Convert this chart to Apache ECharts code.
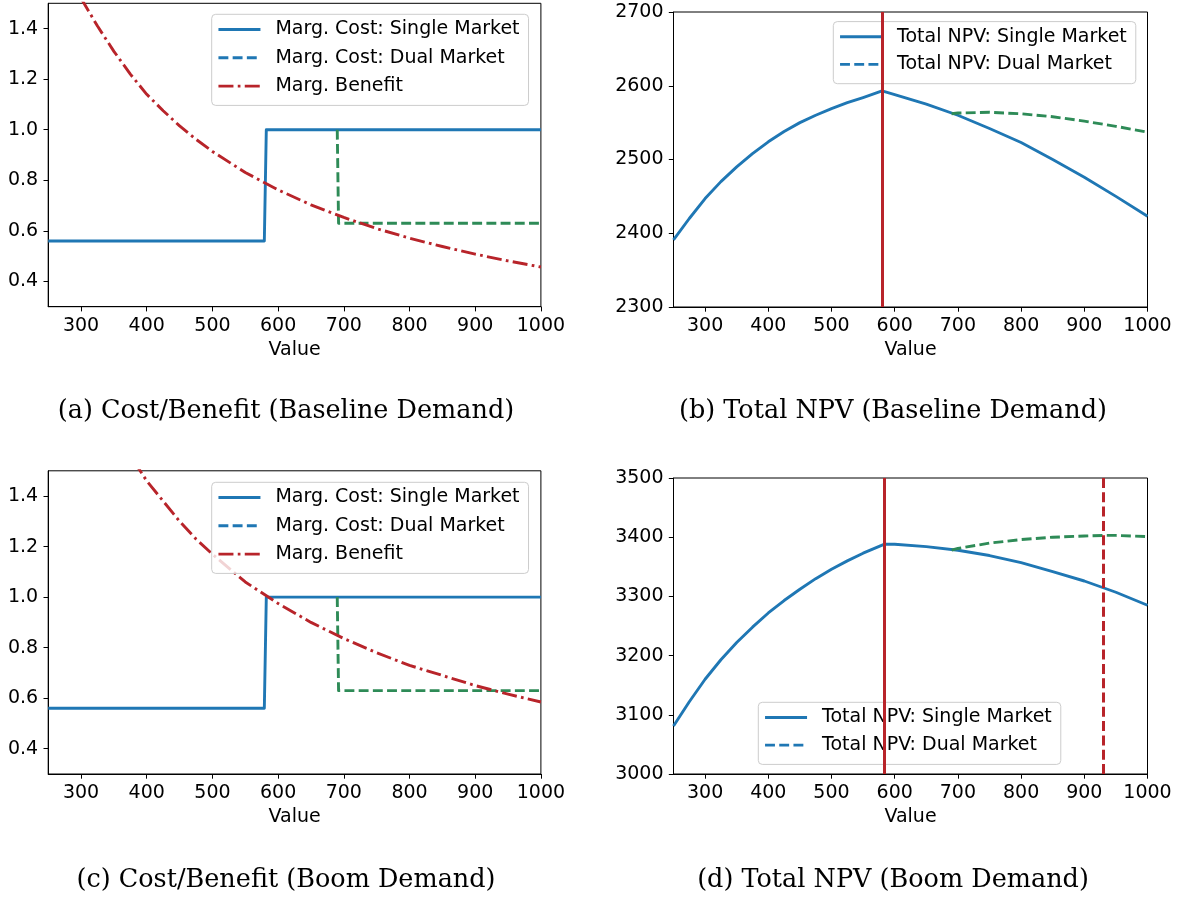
<!DOCTYPE html>
<html>
<head>
<meta charset="utf-8">
<script src="https://cdn.jsdelivr.net/npm/echarts@6/dist/echarts.min.js"></script>
<style>html,body{margin:0;padding:0;background:#fff;}#c{width:1177px;height:900px;}</style>
</head>
<body>
<div id="c"></div>
<script>
// ---- Data ----
const xTicks = [300, 400, 500, 600, 700, 800, 900, 1000];
const costTicks = [0.4, 0.6, 0.8, 1.0, 1.2, 1.4];
const npvBaseTicks = [2300, 2400, 2500, 2600, 2700];
const npvBoomTicks = [3000, 3100, 3200, 3300, 3400, 3500];

// Marginal cost (same in both demand scenarios)
const costSingleX = [250, 579, 582, 1000];
const costSingleY = [0.56, 0.56, 1.0, 1.0];
const costDualX = [690, 692, 1000];
const costDualY = [1.0, 0.63, 0.63];

// Marginal benefit, baseline demand
const benefitBaseX = [300, 325, 350, 375, 400, 425, 450, 475, 500, 550, 600, 650, 700, 750, 800, 850, 900, 950, 1000];
const benefitBaseY = [1.52, 1.41, 1.31, 1.22, 1.14, 1.075, 1.015, 0.962, 0.914, 0.831, 0.762, 0.703, 0.653, 0.609, 0.571, 0.538, 0.508, 0.481, 0.457];

// Marginal benefit, boom demand
const benefitBoomX = [380, 400, 425, 450, 475, 500, 525, 550, 600, 650, 700, 750, 800, 850, 900, 950, 1000];
const benefitBoomY = [1.54, 1.46, 1.38, 1.30, 1.23, 1.17, 1.115, 1.06, 0.975, 0.90, 0.836, 0.78, 0.73, 0.69, 0.65, 0.616, 0.585];

// Total NPV, baseline demand
const npvBaseSingleX = [250, 275, 300, 325, 350, 375, 400, 425, 450, 475, 500, 525, 550, 580, 600, 650, 700, 750, 800, 850, 900, 950, 1000];
const npvBaseSingleY = [2391, 2420, 2447, 2470, 2490, 2508, 2524, 2538, 2550, 2560, 2569, 2577, 2584, 2593, 2588, 2575, 2560, 2542, 2523, 2500, 2476, 2450, 2423];
const npvBaseDualX = [690, 700, 750, 800, 850, 900, 950, 1000];
const npvBaseDualY = [2562, 2563, 2564, 2562, 2558, 2552, 2545, 2537];
const optBase = [581];

// Total NPV, boom demand
const npvBoomSingleX = [250, 275, 300, 325, 350, 375, 400, 425, 450, 475, 500, 525, 550, 583, 600, 650, 700, 750, 800, 850, 900, 950, 1000];
const npvBoomSingleY = [3081, 3122, 3160, 3193, 3222, 3248, 3272, 3293, 3312, 3330, 3346, 3360, 3373, 3388, 3388, 3384, 3378, 3369, 3357, 3342, 3326, 3307, 3285];
const npvBoomDualX = [690, 700, 750, 800, 850, 900, 930, 950, 1000];
const npvBoomDualY = [3378, 3381, 3390, 3396, 3400, 3402, 3403, 3403, 3401];
const optBoomSingle = [583];
const optBoomDual = [930];

const captions = [
  '(a) Cost/Benefit (Baseline Demand)',
  '(b) Total NPV (Baseline Demand)',
  '(c) Cost/Benefit (Boom Demand)',
  '(d) Total NPV (Boom Demand)'
];

// ---- Styling ----
const BLUE = '#1f77b4', GREEN = '#2e8b57', RED = '#b8242a';
const FONT = 'DejaVu Sans';
const FS = 19;
const LW = 2.9;
const DASH = [9.9, 4.3];
const DASHDOT = [15, 4.3, 2.7, 4.3];

const zip = (xs, ys) => xs.map((x, i) => [x, ys[i]]);

const grids = [
  { left: 48.2, top: 3.3, width: 492.7, height: 303.4 },
  { left: 673.5, top: 12, width: 474, height: 295 },
  { left: 48.2, top: 470.8, width: 492.7, height: 303.2 },
  { left: 673.5, top: 478, width: 474, height: 296 }
].map(g => Object.assign({ show: true, borderColor: '#000', borderWidth: 1, backgroundColor: '#fff' }, g));

function xAxis(gi) {
  return {
    type: 'value', gridIndex: gi, min: 250, max: 1000,
    name: 'Value', nameLocation: 'middle', nameGap: 34,
    nameTextStyle: { fontFamily: FONT, fontSize: FS, color: '#000' },
    axisLine: { show: true, lineStyle: { color: '#000', width: 1 } },
    axisTick: { show: true, length: 4.7, customValues: xTicks, lineStyle: { color: '#000', width: 1 } },
    axisLabel: { customValues: xTicks, margin: 10, fontFamily: FONT, fontSize: FS, color: '#000',
      formatter: v => String(v) },
    splitLine: { show: false }
  };
}
function yAxisCost(gi) {
  return {
    type: 'value', gridIndex: gi, min: 0.3, max: 1.5,
    axisLine: { show: true, lineStyle: { color: '#000', width: 1 } },
    axisTick: { show: true, length: 4.7, customValues: costTicks, lineStyle: { color: '#000', width: 1 } },
    axisLabel: { customValues: costTicks, margin: 10, fontFamily: FONT, fontSize: FS, color: '#000',
      formatter: v => Number(v).toFixed(1) },
    splitLine: { show: false }
  };
}
function yAxisNpv(gi, ticks) {
  return {
    type: 'value', gridIndex: gi, min: ticks[0], max: ticks[ticks.length - 1], interval: 100,
    axisLine: { show: true, lineStyle: { color: '#000', width: 1 } },
    axisTick: { show: true, length: 4.7, lineStyle: { color: '#000', width: 1 } },
    axisLabel: { margin: 10, fontFamily: FONT, fontSize: FS, color: '#000', formatter: v => String(v) },
    splitLine: { show: false }
  };
}

function line(name, gi, data, color, type, z) {
  return {
    type: 'line', name, xAxisIndex: gi, yAxisIndex: gi, data,
    symbol: 'none', showSymbol: false, smooth: false, clip: true, z: z || 2,
    color, itemStyle: { color },
    lineStyle: { color, width: LW, type: type, cap: 'butt', join: 'round' },
    emphasis: { disabled: true }, animation: false
  };
}
function vlines(items) {
  return {
    silent: true, symbol: 'none', animation: false,
    label: { show: false },
    emphasis: { disabled: true },
    lineStyle: { color: RED, width: 3, type: 'solid' },
    data: items
  };
}

const series = [];
// (a)
series.push(line('Marg. Cost: Single Market', 0, zip(costSingleX, costSingleY), BLUE, 'solid'));
series.push(line('Marg. Cost: Dual Market', 0, zip(costDualX, costDualY), GREEN, DASH));
series.push(line('Marg. Benefit', 0, zip(benefitBaseX, benefitBaseY), RED, DASHDOT));
// (b)
series.push(line('Total NPV: Single Market', 1, zip(npvBaseSingleX, npvBaseSingleY), BLUE, 'solid'));
const bDual = line('Total NPV: Dual Market', 1, zip(npvBaseDualX, npvBaseDualY), GREEN, DASH);
bDual.markLine = vlines(optBase.map(v => ({ xAxis: v })));
series.push(bDual);
// (c)
series.push(line('Marg. Cost: Single Market', 2, zip(costSingleX, costSingleY), BLUE, 'solid'));
series.push(line('Marg. Cost: Dual Market', 2, zip(costDualX, costDualY), GREEN, DASH));
series.push(line('Marg. Benefit', 2, zip(benefitBoomX, benefitBoomY), RED, DASHDOT));
// (d)
series.push(line('Total NPV: Single Market', 3, zip(npvBoomSingleX, npvBoomSingleY), BLUE, 'solid'));
const dDual = line('Total NPV: Dual Market', 3, zip(npvBoomDualX, npvBoomDualY), GREEN, DASH);
dDual.markLine = vlines(
  optBoomSingle.map(v => ({ xAxis: v, lineStyle: { type: 'solid' } }))
    .concat(optBoomDual.map(v => ({ xAxis: v, lineStyle: { type: [10, 4.3] } })))
);
series.push(dDual);

const legendStyles = {
  'Marg. Cost: Single Market': { color: BLUE, type: 'solid' },
  'Marg. Cost: Dual Market': { color: BLUE, type: DASH },
  'Marg. Benefit': { color: RED, type: DASHDOT },
  'Total NPV: Single Market': { color: BLUE, type: 'solid' },
  'Total NPV: Dual Market': { color: BLUE, type: DASH }
};

function legend(left, top, names, gap) {
  return {
    show: true, orient: 'vertical', left, top,
    itemWidth: 42, itemHeight: 20, itemGap: gap,
    padding: [5.2, 9, 9.3, 5.3],
    backgroundColor: 'rgba(255,255,255,0.8)',
    borderColor: '#cccccc', borderWidth: 1, borderRadius: 4,
    selectedMode: false,
    itemStyle: { color: 'rgba(0,0,0,0)', borderWidth: 0, opacity: 0 },
    textStyle: { fontFamily: FONT, fontSize: FS, color: '#000', lineHeight: 20, padding: [0, 0, 0, 10] },
    data: names.map(n => ({
      name: n,
      itemStyle: { color: 'rgba(0,0,0,0)', borderWidth: 0, opacity: 0 },
      lineStyle: { color: legendStyles[n].color, type: legendStyles[n].type, width: LW, opacity: 1 }
    }))
  };
}
const costNames = ['Marg. Cost: Single Market', 'Marg. Cost: Dual Market', 'Marg. Benefit'];
const npvNames = ['Total NPV: Single Market', 'Total NPV: Dual Market'];

const capFont = '25.5px "DejaVu Serif"';
const capPos = [[286, 411], [893, 411], [286, 880], [893, 880]];
const graphic = captions.map((t, i) => ({
  type: 'text', x: capPos[i][0], y: capPos[i][1],
  style: { text: t, font: capFont, fill: '#000', align: 'center', verticalAlign: 'middle' }
}));

const option = {
  animation: false,
  backgroundColor: '#fff',
  grid: grids,
  xAxis: [xAxis(0), xAxis(1), xAxis(2), xAxis(3)],
  yAxis: [yAxisCost(0), yAxisNpv(1, npvBaseTicks), yAxisCost(2), yAxisNpv(3, npvBoomTicks)],
  legend: [
    legend(211.7, 14.3, costNames, 8.3),
    legend(833.3, 21.6, npvNames, 7.6),
    legend(211.7, 482.3, costNames, 8.3),
    legend(758.3, 702.3, npvNames, 7.6)
  ],
  graphic,
  series
};

const chart = echarts.init(document.getElementById('c'), null, { renderer: 'canvas' });
chart.setOption(option);
</script>
</body>
</html>
